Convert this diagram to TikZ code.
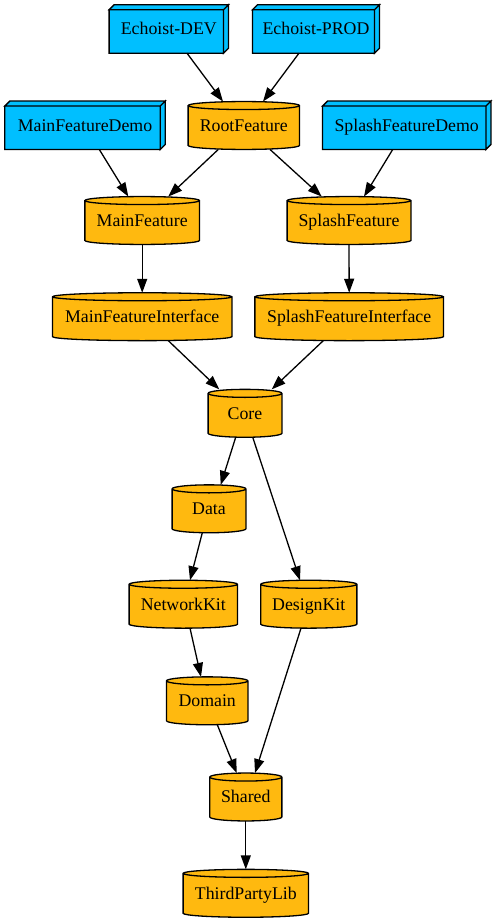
\documentclass[tikz,border=0pt]{standalone}
\usepackage{fontspec}
\setmainfont{Liberation Serif}
\usetikzlibrary{arrows.meta,calc}
\pgfdeclarelayer{bg}
\pgfsetlayers{bg,main}
\definecolor{boxblue}{RGB}{0,191,255}
\definecolor{cylorange}{RGB}{255,185,15}
\begin{document}
\begin{tikzpicture}[x=1pt,y=1pt,
  base/.style={shape=rectangle, inner sep=0pt, minimum height=47.5pt,
    font=\fontsize{17.8}{20}\selectfont, text height=11.8pt, text depth=0pt},
  cyl/.style={base},
  boxthree/.style={base, minimum height=48pt},
  cylbody/.style={draw=black, fill=cylorange, line width=1.3pt},
  boxbody/.style={draw=black, fill=boxblue, line width=1.3pt},
  edge/.style={draw=black, line width=1.3pt, -{Triangle[length=14pt,width=10pt]}}]
\useasboundingbox (0,0) rectangle (497,-923);
% box3d nodes
\node[boxthree, minimum width=119pt] (dev) at (168.8,-29) {Echoist-DEV};
\node[boxthree, minimum width=126.6pt] (prod) at (316,-29) {Echoist-PROD};
\node[boxthree, minimum width=160pt] (mfd) at (85,-125.3) {MainFeatureDemo};
\node[boxthree, minimum width=168pt] (sfd) at (406.7,-125.3) {SplashFeatureDemo};
% cylinder nodes
\node[cyl, minimum width=111pt] (root) at (243.8,-125.5) {RootFeature};
\node[cyl, minimum width=114.3pt] (mf) at (142.2,-220.5) {MainFeature};
\node[cyl, minimum width=123.4pt] (sf) at (349,-220.5) {SplashFeature};
\node[cyl, minimum width=179pt] (mfi) at (142.2,-316.7) {MainFeatureInterface};
\node[cyl, minimum width=188.3pt] (sfi) at (349.2,-316.7) {SplashFeatureInterface};
\node[cyl, minimum width=73.4pt] (core) at (245,-413.3) {Core};
\node[cyl, minimum width=73.4pt] (data) at (209,-508.8) {Data};
\node[cyl, minimum width=108pt] (nk) at (183.3,-604.2) {NetworkKit};
\node[cyl, minimum width=95.7pt] (dk) at (308.8,-604.2) {DesignKit};
\node[cyl, minimum width=81pt] (dom) at (207.2,-700.8) {Domain};
\node[cyl, minimum width=71.7pt] (shared) at (245.8,-797) {Shared};
\node[cyl, minimum width=125pt] (tpl) at (245.8,-893.3) {ThirdPartyLib};
\begin{pgfonlayer}{bg}
\foreach \nm in {root,mf,sf,mfi,sfi,core,data,nk,dk,dom,shared,tpl} {
  \path[cylbody] let \p1=(\nm.north west), \p2=(\nm.south east), \n1={0.5*(\x2-\x1)} in
    (\x1,\y1-4pt) -- (\x1,\y2+4pt) arc[start angle=180,end angle=360,x radius=\n1,y radius=4pt]
    -- (\x2,\y1-4pt) arc[start angle=0,end angle=180,x radius=\n1,y radius=4pt] -- cycle
    (\x1,\y1-4pt) arc[start angle=180,end angle=360,x radius=\n1,y radius=4pt];
}
\foreach \nm in {dev,prod,mfd,sfd} {
  \path[boxbody] let \p1=(\nm.north west), \p2=(\nm.south east) in
    (\x1,\y1-5pt) rectangle (\x2-5pt,\y2)
    (\x1,\y1-5pt) -- (\x1+5pt,\y1) -- (\x2,\y1) -- (\x2-5pt,\y1-5pt) -- cycle
    (\x2-5pt,\y1-5pt) -- (\x2,\y1) -- (\x2,\y2+5pt) -- (\x2-5pt,\y2) -- cycle;
}
\end{pgfonlayer}
% edges
\draw[edge] ([xshift=18.2pt]dev.south) -- ([xshift=-20.8pt]root.north);
\draw[edge] ([xshift=-17pt]prod.south) -- ([xshift=19.2pt]root.north);
\draw[edge] ([xshift=14.3pt]mfd.south) -- ([xshift=-13.9pt]mf.north);
\draw[edge] ([xshift=-25.5pt]root.south) -- ([xshift=26.1pt]mf.north);
\draw[edge] ([xshift=26.2pt]root.south) -- ([xshift=-27.3pt]sf.north);
\draw[edge] ([xshift=-14pt]sfd.south) -- ([xshift=15pt]sf.north);
\draw[edge] (mf.south) -- (mfi.north);
\draw[edge] (sf.south) -- (sfi.north);
\draw[edge] ([xshift=26.1pt]mfi.south) -- ([xshift=-25.7pt]core.north);
\draw[edge] ([xshift=-25.9pt]sfi.south) -- ([xshift=26.7pt]core.north);
\draw[edge] ([xshift=-9.3pt]core.south) -- ([xshift=11.7pt]data.north);
\draw[edge] ([xshift=7.7pt]core.south) -- ([xshift=-8.8pt]dk.north);
\draw[edge] ([xshift=-6.7pt]data.south) -- ([xshift=6.7pt]nk.north);
\draw[edge] ([xshift=6.7pt]nk.south) -- ([xshift=-6.2pt]dom.north);
\draw[edge] ([xshift=-7.8pt]dk.south) -- ([xshift=9.2pt]shared.north);
\draw[edge] ([xshift=10.1pt]dom.south) -- ([xshift=-9.1pt]shared.north);
\draw[edge] (shared.south) -- (tpl.north);
\end{tikzpicture}
\end{document}
